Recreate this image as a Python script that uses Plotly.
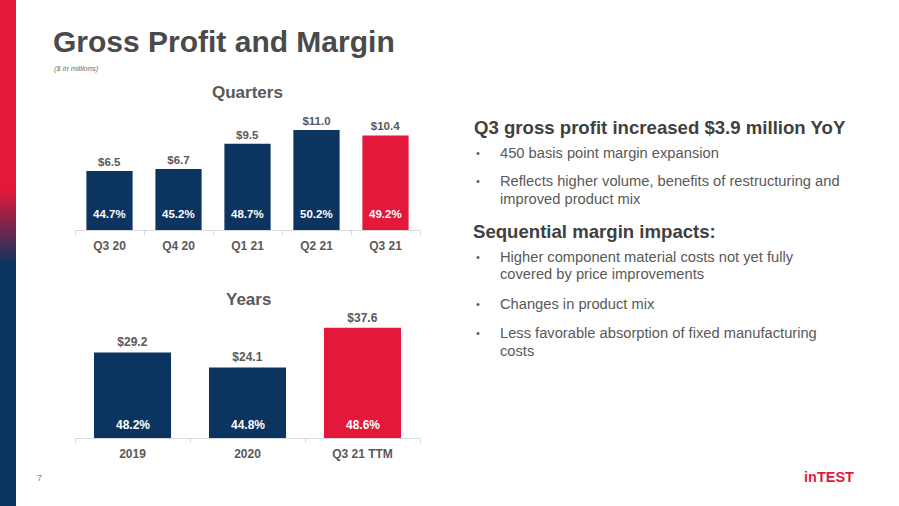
import plotly.graph_objects as go

# ---------------- data ----------------
q_categories = ["Q3 20", "Q4 20", "Q1 21", "Q2 21", "Q3 21"]
q_profit = [6.5, 6.7, 9.5, 11.0, 10.4]
q_margin = ["44.7%", "45.2%", "48.7%", "50.2%", "49.2%"]

y_categories = ["2019", "2020", "Q3 21 TTM"]
y_profit = [29.2, 24.1, 37.6]
y_margin = ["48.2%", "44.8%", "48.6%"]

# ---------------- style ----------------
W, H = 899, 506
NAVY = "#0B3461"
RED = "#E4183A"
GRAY = "#595959"
FONT = "Liberation Sans, Arial, sans-serif"

def px(x):
    return x / W

def py(y):
    return 1 - y / H

q_colors = [NAVY] * (len(q_categories) - 1) + [RED]
y_colors = [NAVY] * (len(y_categories) - 1) + [RED]

fig = go.Figure()

fig.add_trace(go.Bar(
    x=q_categories, y=q_profit, marker_color=q_colors, marker_line_width=0,
    text=[f"${v:.1f}" for v in q_profit], textposition="outside",
    outsidetextfont=dict(family=FONT, size=11.5, color=GRAY, weight="bold"),
    cliponaxis=False, xaxis="x", yaxis="y", hoverinfo="skip", showlegend=False,
))
fig.add_trace(go.Bar(
    x=y_categories, y=y_profit, marker_color=y_colors, marker_line_width=0,
    text=[f"${v:.1f}" for v in y_profit], textposition="outside",
    outsidetextfont=dict(family=FONT, size=12, color=GRAY, weight="bold"),
    cliponaxis=False, xaxis="x2", yaxis="y2", hoverinfo="skip", showlegend=False,
))

annotations = []
# margin labels inside bars (category axes take serial index positions)
for i, m in enumerate(q_margin):
    annotations.append(dict(x=i, y=0, xref="x", yref="y", text=m, showarrow=False,
                            yanchor="middle", yshift=16,
                            font=dict(family=FONT, size=11.5, color="white", weight="bold")))
for i, m in enumerate(y_margin):
    annotations.append(dict(x=i, y=0, xref="x2", yref="y2", text=m, showarrow=False,
                            yanchor="middle", yshift=13,
                            font=dict(family=FONT, size=12, color="white", weight="bold")))

def txt(x, y, s, size, color, weight="normal", anchor="left", style="normal", family=FONT):
    annotations.append(dict(x=px(x), y=py(y), xref="paper", yref="paper", text=s,
                            showarrow=False, xanchor=anchor, yanchor="middle",
                            font=dict(family=family, size=size, color=color,
                                      weight=weight, style=style)))

# titles
txt(51, 42, "Gross Profit and Margin", 30, "#4A4A4A", "bold")
txt(52, 68, "($ in millions)", 7.5, "#6b6b6b", style="italic")
txt(247, 92, "Quarters", 17, GRAY, "bold", "center")
txt(248, 299, "Years", 17, GRAY, "bold", "center")

# right-hand text
HEAD = "#404040"
txt(472, 127, "Q3 gross profit increased $3.9 million YoY", 18.6, HEAD, "bold")
txt(471, 231, "Sequential margin impacts:", 18.6, HEAD, "bold")
bullets = [
    (153, "450 basis point margin expansion", True),
    (181, "Reflects higher volume, benefits of restructuring and", True),
    (199, "improved product mix", False),
    (257, "Higher component material costs not yet fully", True),
    (274, "covered by price improvements", False),
    (304, "Changes in product mix", True),
    (333, "Less favorable absorption of fixed manufacturing", True),
    (351, "costs", False),
]
for y, s, b in bullets:
    if b:
        txt(474, y, "•", 11, GRAY)
    txt(498, y, s, 14.7, GRAY)

# footer
txt(35, 478, "7", 9, "#7f7f7f")
txt(829, 477, "inTEST", 14.5, RED, "bold", "center")

# left decorative bar with gradient
shapes = [dict(type="rect", xref="paper", yref="paper", x0=0, x1=px(16),
               y0=py(190), y1=1, fillcolor=RED, line_width=0, layer="below"),
          dict(type="rect", xref="paper", yref="paper", x0=0, x1=px(16),
               y0=0, y1=py(265), fillcolor=NAVY, line_width=0, layer="below")]
r1, g1, b1 = 0xE4, 0x18, 0x3A
r2, g2, b2 = 0x0B, 0x34, 0x61
steps = 25
for i in range(steps):
    t = (i + 0.5) / steps
    col = f"rgb({int(r1 + (r2 - r1) * t)},{int(g1 + (g2 - g1) * t)},{int(b1 + (b2 - b1) * t)})"
    ya = 190 + 75 * i / steps
    yb = 190 + 75 * (i + 1) / steps
    shapes.append(dict(type="rect", xref="paper", yref="paper", x0=0, x1=px(16),
                       y0=py(yb + 0.5), y1=py(ya), fillcolor=col, line_width=0, layer="below"))

axis_common = dict(type="category", showgrid=False, zeroline=False, showline=True,
                   linecolor="#D9D9D9", linewidth=1, ticks="outside", tickson="boundaries",
                   ticklen=4, tickcolor="#D9D9D9", fixedrange=True, ticklabelstandoff=5,
                   tickfont=dict(family=FONT, size=12, color=GRAY, weight="bold"))

fig.update_layout(
    width=W, height=H, margin=dict(l=0, r=0, t=0, b=0),
    paper_bgcolor="white", plot_bgcolor="white",
    bargap=0.33, showlegend=False,
    xaxis=dict(domain=[px(75), px(420)], anchor="y",
               range=[-0.5, len(q_categories) - 0.5], **axis_common),
    yaxis=dict(domain=[py(230), py(100)], range=[0, 14.3], visible=False, fixedrange=True),
    xaxis2=dict(domain=[px(75), px(420)], anchor="y2",
                range=[-0.5, len(y_categories) - 0.5], **axis_common),
    yaxis2=dict(domain=[py(438), py(310)], range=[0, 43.7], visible=False, fixedrange=True),
    annotations=annotations, shapes=shapes,
    font=dict(family=FONT),
)

fig.write_html(
    "out.html",
    config={"displayModeBar": False},
    post_script="document.body.style.margin='0';document.body.style.padding='0';"
                "document.body.style.overflow='hidden';",
)
